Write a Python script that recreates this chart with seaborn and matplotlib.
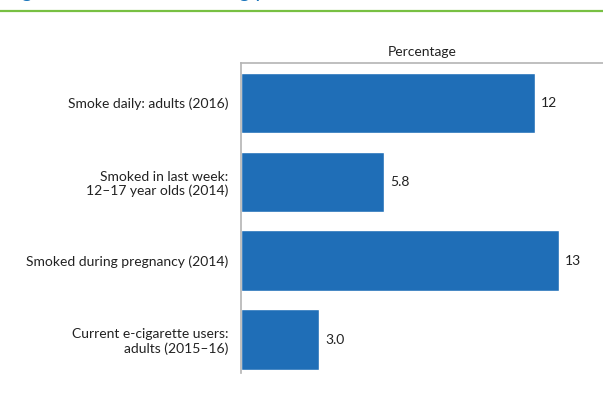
import matplotlib
matplotlib.use("Agg")
import matplotlib.pyplot as plt
from matplotlib.lines import Line2D
import seaborn as sns

# --- data ---
categories = [
    "Smoke daily: adults (2016)",
    "Smoked in last week:\n12\u201317 year olds (2014)",
    "Smoked during pregnancy (2014)",
    "Current e-cigarette users:\nadults (2015\u201316)",
]
values = [12.0, 5.85, 13.0, 3.2]
value_labels = ["12", "5.8", "13", "3.0"]
title_text = "Figure 2: Tobacco smoking prevalence, Queensland"

bar_blue = "#1f6eb7"
title_blue = "#1a75bb"
rule_green = "#78c043"
spine_grey = "#b4b4b4"

sns.set_style("white")
plt.rcParams["font.family"] = ["Lato", "DejaVu Sans"]

fig = plt.figure(figsize=(6.03, 4.03), dpi=100)
ax = fig.add_axes([241 / 603, 1 - 373 / 403, 1 - 241 / 603, 310 / 403])

sns.barplot(x=values, y=categories, orient="h", color=bar_blue,
            saturation=1, width=0.77, ax=ax)

# value labels just past the bar ends
for i, (v, lab) in enumerate(zip(values, value_labels)):
    ax.text(v + 0.25, i, lab, va="center", ha="left", fontsize=10, color="#222222")

ax.set_xlim(0, 14.8)
ax.set_ylim(3.425, -0.508)
ax.set_xticks([])
ax.set_xlabel("Percentage", fontsize=10, color="#222222", labelpad=5)
ax.xaxis.set_label_position("top")
ax.set_ylabel("")
ax.tick_params(axis="y", length=0, pad=9, labelsize=10, labelcolor="#222222")
for lab in ax.get_yticklabels():
    lab.set_multialignment("right")

for side in ["left", "top"]:
    ax.spines[side].set_color(spine_grey)
    ax.spines[side].set_linewidth(1.2)
ax.spines["right"].set_visible(False)
ax.spines["bottom"].set_visible(False)

# clipped figure title (only descenders show) and green rule at the top
fig.text(0.008, 1 + 3 / 403, title_text, color=title_blue, fontsize=15,
         va="baseline", ha="left")
fig.add_artist(Line2D([0, 1], [1 - 11 / 403, 1 - 11 / 403], color=rule_green,
                      linewidth=1.6, transform=fig.transFigure))

fig.savefig("out.png", dpi=100)
